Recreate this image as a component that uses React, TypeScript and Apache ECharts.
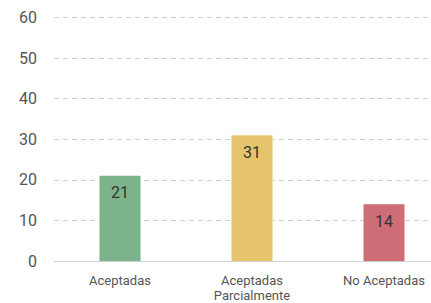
import React, { useEffect, useRef } from "react";
import * as echarts from "echarts";

const categories = ["Aceptadas", "Aceptadas\nParcialmente", "No Aceptadas"];
const values = [21, 31, 14];
const barColors = ["#7db38a", "#e6c46e", "#cf6d76"];
const yTicks = [0, 10, 20, 30, 40, 50, 60];

export default function App() {
  const ref = useRef<HTMLDivElement>(null);
  useEffect(() => {
    if (!ref.current) return;
    const chart = echarts.init(ref.current, undefined, { renderer: "svg" });
    chart.setOption({
      animation: false,
      grid: { left: 54, top: 17.5, right: 0, bottom: 40.5, containLabel: false },
      xAxis: {
        type: "category",
        data: categories,
        axisLine: { show: true, lineStyle: { color: "#d0d0d0", width: 1 } },
        axisTick: { show: false },
        axisLabel: {
          color: "#555",
          fontFamily: "Roboto, 'DejaVu Sans', sans-serif",
          fontSize: 13,
          margin: 12,
          lineHeight: 15,
          interval: 0,
        },
      },
      yAxis: {
        type: "value",
        min: yTicks[0],
        max: yTicks[yTicks.length - 1],
        interval: 10,
        axisLine: { show: false },
        axisTick: { show: false },
        axisLabel: {
          color: "#555",
          fontFamily: "Roboto, 'DejaVu Sans', sans-serif",
          fontSize: 16,
          margin: 17,
        },
        splitLine: { lineStyle: { color: "#cfcfcf", type: [5, 4], width: 1 } },
      },
      series: [
        {
          type: "bar",
          barWidth: 41,
          data: values.map((v, i) => ({ value: v, itemStyle: { color: barColors[i] } })),
          label: {
            show: true,
            position: "insideTop",
            distance: 9,
            color: "#333",
            fontFamily: "Roboto, 'DejaVu Sans', sans-serif",
            fontSize: 16,
          },
        },
      ],
    });
    return () => chart.dispose();
  }, []);
  return (
    <div style={{ position: "absolute", left: 0, top: 0, width: 431, height: 303, overflow: "hidden" }}>
      <div ref={ref} style={{ width: 450, height: 303 }} />
    </div>
  );
}
